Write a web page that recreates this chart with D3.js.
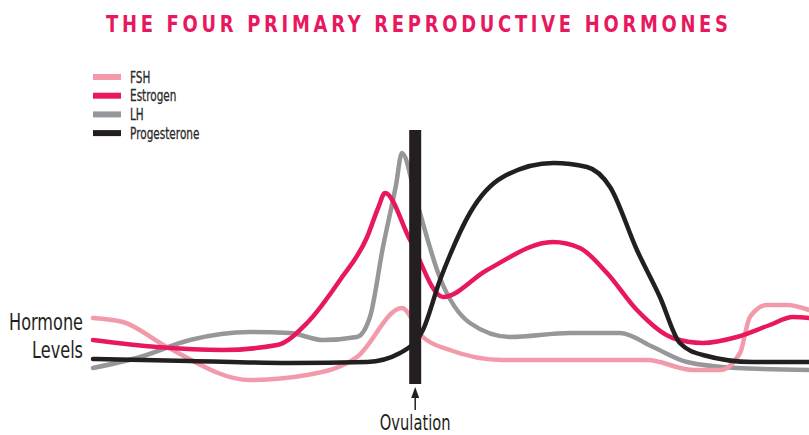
<!DOCTYPE html>
<html>
<head>
<meta charset="utf-8">
<script src="https://cdn.jsdelivr.net/npm/d3@7"></script>
<style>
  body { margin: 0; background: #fff; }
  text { font-family: "DejaVu Sans", sans-serif; }
</style>
</head>
<body>
<svg id="chart"></svg>
<script>
const W = 809, H = 435;

// cycle day (0-28) vs relative hormone level (0-100)
const fshDays = [0, 1.17, 2.89, 6.14, 8.37, 10.32, 12.08, 12.9, 13.96, 16.03, 19.32, 21.67, 23.46, 24.52, 25.3, 25.69, 26.36, 27.14, 28];
const fshLevels = [28.8, 27.2, 17.2, 4, 6, 13.2, 32.8, 21.2, 16, 12, 12, 12, 8, 8, 14.8, 29.2, 34, 34, 32];

const estrogenDays = [0, 2.5, 5.08, 7.2, 8.37, 9.66, 10.72, 11.15, 11.42, 12.4, 13.69, 15.41, 17.99, 19.04, 20.1, 21.27, 22.68, 23.85, 25.18, 26.47, 27.37, 28];
const estrogenLevels = [20, 17.2, 16, 18, 26.8, 44, 61.2, 72.8, 78.8, 60, 37.2, 48, 59.2, 56.8, 46.8, 32, 20.8, 18.8, 21.2, 26, 29.2, 28.8];

const lhDays = [0, 1.84, 3.79, 6.14, 7.7, 8.99, 10.32, 10.83, 11.34, 11.85, 12.08, 12.67, 13.57, 14.74, 16.31, 18.65, 20.61, 21.9, 23.23, 25.18, 28];
const lhLevels = [8.8, 13.2, 20, 23.2, 22.8, 20, 21.2, 29.2, 57.2, 82, 94.8, 74.8, 44.8, 26.8, 21.2, 22.8, 22.8, 17.2, 11.2, 8.8, 8];

const progDays = [0, 3.79, 7.7, 10.72, 12.01, 12.9, 13.57, 13.96, 14.74, 16.03, 18, 19.32, 20.22, 21.27, 22.17, 22.95, 23.85, 25.8, 28];
const progLevels = [12.4, 11.6, 10.8, 11.2, 14.8, 24, 44, 54, 70.8, 85.2, 90.8, 89.2, 81.2, 56, 37.2, 18.8, 14, 11.2, 11.2];

const seriesNames = ['FSH', 'Estrogen', 'LH', 'Progesterone'];
const seriesColors = ['#f29aaa', '#e8185f', '#97979b', '#231f20'];
const ovulationDay = 12.6;

const zip = (xs, ys) => xs.map((d, i) => ({day: d, level: ys[i]}));
const series = [
  zip(fshDays, fshLevels),
  zip(estrogenDays, estrogenLevels),
  zip(lhDays, lhLevels),
  zip(progDays, progLevels)
];

const svg = d3.select('#chart').attr('width', W).attr('height', H);

const x = d3.scaleLinear().domain([0, 28]).range([93, 809]);
const y = d3.scaleLinear().domain([0, 100]).range([390, 140]);

// no condensed face installed, so squeeze the glyphs horizontally
const narrow = 0.7;

// title
svg.append('g')
  .attr('transform', 'translate(106,32) scale(0.78,1)')
  .append('text')
  .attr('textLength', 622 / 0.78)
  .attr('lengthAdjust', 'spacing')
  .attr('font-size', '23px')
  .attr('font-weight', 'bold')
  .attr('fill', '#e8185f')
  .text('THE FOUR PRIMARY REPRODUCTIVE HORMONES');

// legend
const legend = svg.append('g').attr('transform', 'translate(93,77)');
seriesNames.forEach((name, i) => {
  const row = legend.append('g').attr('transform', `translate(0,${i * 18.7})`);
  row.append('line')
    .attr('x1', 0).attr('x2', 28)
    .attr('stroke', seriesColors[i])
    .attr('stroke-width', 6);
  row.append('text')
    .attr('transform', `translate(37,5.5) scale(${narrow},1)`)
    .attr('font-size', '15px')
    .attr('fill', '#2a2a2a')
    .attr('stroke', '#2a2a2a')
    .attr('stroke-width', 0.3)
    .text(name);
});

// curves
const line = d3.line()
  .x(d => x(d.day))
  .y(d => y(d.level))
  .curve(d3.curveMonotoneX);

const drawOrder = [2, 0, 1, 3];
svg.append('g')
  .selectAll('path')
  .data(drawOrder)
  .join('path')
  .attr('d', i => line(series[i]))
  .attr('fill', 'none')
  .attr('stroke', i => seriesColors[i])
  .attr('stroke-width', 4.5)
  .attr('stroke-linejoin', 'round')
  .attr('stroke-linecap', 'round');

// ovulation marker
svg.append('rect')
  .attr('x', x(ovulationDay) - 6)
  .attr('y', y(104))
  .attr('width', 12)
  .attr('height', y(2.4) - y(104))
  .attr('fill', '#231f20');

svg.append('line')
  .attr('x1', x(ovulationDay)).attr('x2', x(ovulationDay))
  .attr('y1', 396).attr('y2', 410)
  .attr('stroke', '#231f20')
  .attr('stroke-width', 1.5);
svg.append('path')
  .attr('d', `M${x(ovulationDay)},387 l-4,11 l8,0 z`)
  .attr('fill', '#231f20');

svg.append('text')
  .attr('transform', `translate(${x(ovulationDay)},430) scale(${narrow},1)`)
  .attr('text-anchor', 'middle')
  .attr('font-size', '21px')
  .attr('fill', '#231f20')
  .text('Ovulation');

// y label
const yLabel = svg.append('text')
  .attr('transform', `translate(83,0) scale(${narrow},1)`)
  .attr('text-anchor', 'end')
  .attr('font-size', '23px')
  .attr('fill', '#231f20');
yLabel.append('tspan').attr('x', 0).attr('y', 330).text('Hormone');
yLabel.append('tspan').attr('x', 0).attr('y', 358).text('Levels');
</script>
</body>
</html>
